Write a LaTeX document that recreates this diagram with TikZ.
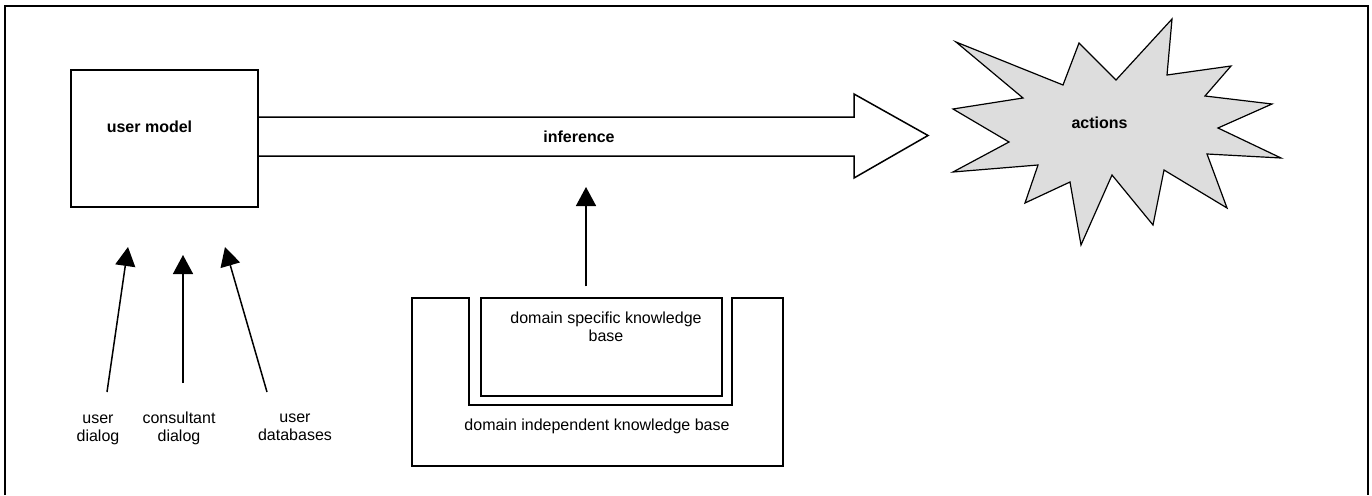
\documentclass[tikz,border=0pt]{standalone}
\usepackage{fontspec}
\setmainfont{Liberation Sans}
\usetikzlibrary{arrows.meta}
\definecolor{burstgray}{RGB}{221,221,221}

\begin{document}
\begin{tikzpicture}[x=1pt, y=-1pt,
    box/.style={draw, line width=1.5pt, inner sep=0pt},
    shape line/.style={draw, line width=1.5pt, line join=miter},
    label text/.style={font=\fontsize{16}{18}\selectfont, align=center, inner sep=0pt},
    bold text/.style={font=\fontsize{16}{18}\selectfont\bfseries, inner sep=0pt},
    feed/.style={-{Triangle[width=20pt, length=19pt]}, line width=1.5pt}
]
\useasboundingbox (0,0) rectangle (1372,495);
\draw[line width=2pt] (5,495) |- (1368,6) -- (1368,495);

% user model and its sources
\node[box, minimum width=187pt, minimum height=137pt] (usermodel) at (164.5,138.5) {};
\node[bold text, anchor=base] (umlabel) at (149.5,132) {user model};

\node[label text] (uddialog) at (98,429.5) {user\\dialog};
\node[label text] (cdialog) at (179,428) {consultant\\dialog};
\node[label text] (udbases) at (295,427.75) {user\\databases};

\coordinate (udfoot) at (107,392);
\coordinate (cdfoot) at (183,383);
\coordinate (dbfoot) at (267,392);
\coordinate (udtip) at (128,247);
\coordinate (cdtip) at (183,255);
\coordinate (dbtip) at (225,247);

\draw[feed] (udfoot) -- (udtip);
\draw[feed] (cdfoot) -- (cdtip);
\draw[feed] (dbfoot) -- (dbtip);

% inference arrow
\draw[shape line] (usermodel.east |- 0,117) -- (854,117) -- (854,94) -- (928,135.5)
    -- (854,178) -- (854,156) -- (usermodel.east |- 0,156);
\node[bold text] (inference) at (579,136.5) {inference};

% actions
\draw[fill=burstgray, line width=1.2pt, line join=miter] (956,42) -- (1063,85) -- (1079,43)
    -- (1116,80) -- (1172,19) -- (1167,75) -- (1231,66) -- (1205,96) -- (1272,104)
    -- (1218,128) -- (1281,158) -- (1207,154) -- (1227,208) -- (1164,170) -- (1153,225)
    -- (1112,175) -- (1081,245) -- (1070,182) -- (1025,203) -- (1038,165) -- (953,172)
    -- (1009,142) -- (953,109) -- (1023,98) -- cycle;
\node[bold text] (actions) at (1099.5,122.5) {actions};

% knowledge bases
\draw[shape line] (412,298) -- (469,298) -- (469,405) -- (732,405) -- (732,298)
    -- (783,298) -- (783,466) -- (412,466) -- cycle;
\node[box, minimum width=241pt, minimum height=98pt] (dsk) at (601.5,347) {};
\node[label text] (dsklabel) at (606,327.25) {domain specific knowledge\\base};
\node[label text, anchor=base] (diklabel) at (597,430) {domain independent knowledge base};

\coordinate (inftip) at (586,187);
\draw[feed] ([shift={(-15.5,-11)}]dsk.north) -- (inftip);
\end{tikzpicture}
\end{document}
